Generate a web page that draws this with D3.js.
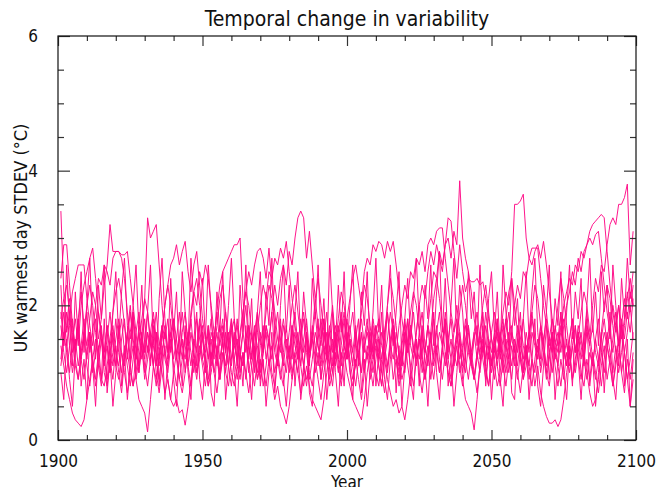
<!DOCTYPE html>
<html>
<head>
<meta charset="utf-8">
<script src="https://cdn.jsdelivr.net/npm/d3@7"></script>
<style>
body { margin: 0; background: #fff; }
svg { display: block; }
text { font-family: "DejaVu Sans Condensed", "DejaVu Sans", sans-serif; fill: #111; }
</style>
</head>
<body>
<svg id="grafico" width="659" height="487"></svg>
<script>

//DATI

var anni = d3.range(1901, 2100);

var serie1 = [
3.4,2.2,1.6,1.9,1.3,1.5,1.1,1.4,1.8,1.2, 1.6,1.0,1.3,1.9,1.5,1.2,0.9,1.4,1.7,1.3,
1.1,1.5,1.8,1.2,1.6,1.9,1.4,1.0,1.5,2.1, 3.3,3.0,3.1,3.2,2.6,2.0,1.5,1.8,1.3,1.6,
1.2,1.5,1.9,1.4,1.1,1.6,1.3,1.8,1.5,1.2, 1.4,1.7,1.1,1.5,1.9,2.3,2.5,2.6,2.7,2.8,
2.9,2.9,3.0,2.1,1.5,1.2,1.6,1.3,1.0,1.4, 1.7,1.2,1.5,1.9,1.3,1.1,1.5,1.8,1.4,1.0,
1.3,1.6,1.2,1.5,1.8,1.3,0.9,1.2,1.6,1.4, 1.1,1.5,1.9,1.3,1.0,1.4,1.7,1.2,1.5,1.8,
1.4,1.1,1.6,1.3,1.0,1.5,1.8,1.2,1.4,1.7, 1.3,1.0,1.5,1.9,1.4,1.2,1.6,1.3,1.1,1.5,
1.8,1.4,1.2,1.6,2.0,1.5,1.3,1.7,2.1,2.5, 2.4,2.8,2.6,2.9,3.0,2.7,3.1,2.9,3.85,3.0,
2.7,2.5,2.2,1.8,1.5,1.3,1.6,1.2,1.5,1.1, 1.4,1.7,1.3,1.0,1.5,1.2,1.6,1.4,1.1,1.5,
1.8,1.3,1.1,1.6,1.4,1.2,1.7,1.5,1.0,1.3, 1.6,1.2,1.5,1.9,1.4,1.1,1.5,1.8,1.3,1.6,
1.4,1.1,1.7,1.5,2.0,2.4,2.2,2.6,2.5,2.9, 3.2,3.3,3.2,3.5,3.5,3.6,3.8,2.6,3.1
];

var serie2 = [
2.4,2.9,2.9,2.3,1.7,1.4,1.8,1.2,1.5,1.9, 1.3,1.6,2.0,1.5,1.8,2.3,2.6,3.2,2.8,2.8,
2.8,2.7,2.4,1.9,1.5,1.8,1.3,1.6,1.2,1.5, 1.9,1.4,1.1,1.6,1.3,1.7,1.2,1.0,1.4,1.8,
1.5,1.2,1.6,1.9,1.4,1.1,1.5,1.3,1.7,1.2, 1.0,1.4,1.8,1.3,1.6,1.2,1.5,1.9,1.4,1.1,
1.5,1.7,1.3,1.6,2.0,1.4,1.2,1.6,1.9,1.5, 1.3,1.7,1.4,1.9,2.3,2.0,2.4,2.6,2.3,2.8,
2.6,3.0,3.3,3.4,3.3,2.7,3.1,2.6,2.1,1.7, 1.4,1.8,1.3,1.1,1.5,1.2,1.6,1.9,1.4,1.2,
1.5,1.3,1.7,1.2,1.0,1.4,1.6,1.3,1.8,1.5, 1.2,1.6,1.4,1.1,1.5,1.8,1.3,1.0,1.4,1.7,
1.3,1.5,1.9,1.4,1.2,1.6,1.3,1.7,1.5,1.2, 1.6,1.9,1.4,1.1,1.5,1.8,1.3,1.6,1.2,1.4,
1.8,1.3,1.1,1.5,1.7,1.2,1.4,1.9,1.5,1.3, 1.6,1.2,1.5,1.9,2.2,2.0,2.5,3.5,3.5,3.55,
3.65,3.0,2.7,2.85,2.85,2.85,2.4,2.0,1.7,1.4, 1.6,1.3,1.1,1.5,1.8,1.4,1.2,1.6,1.3,1.7,
1.5,1.2,1.6,1.4,1.1,1.5,1.8,1.3,1.6,1.4, 1.2,1.5,1.9,1.4,1.7,1.3,1.6,2.0,1.5
];

var serie3 = [
1.5,1.9,1.4,1.8,2.2,2.4,2.6,2.6,2.6,2.1, 1.7,1.4,1.8,1.3,1.6,1.2,1.5,1.9,1.4,1.1,
1.5,1.8,1.3,1.6,2.0,1.5,1.2,1.6,1.4,1.8, 1.3,1.6,1.9,1.5,1.2,1.6,2.0,2.3,2.6,2.7,
2.9,2.6,2.8,2.95,2.5,2.2,2.6,2.8,2.3,1.8, 1.5,1.2,1.6,1.4,1.1,1.5,1.8,1.3,1.6,1.2,
1.4,1.8,1.3,1.1,1.5,1.7,1.2,1.6,1.4,1.0, 1.3,1.7,1.5,1.2,1.6,1.9,1.4,1.1,1.5,1.3,
1.7,1.4,1.2,1.6,1.9,1.5,1.3,1.7,1.4,1.1, 1.5,1.8,1.3,1.6,2.0,1.5,1.2,1.6,1.9,1.4,
1.7,1.3,1.1,1.5,1.8,1.4,1.2,1.6,1.3,1.7, 1.5,1.2,1.6,1.9,1.4,1.7,1.3,1.1,1.5,1.8,
1.4,1.7,1.3,1.6,2.0,2.3,2.1,2.5,2.8,2.6, 2.9,2.7,2.5,2.9,3.3,3.25,2.8,2.4,2.9,2.5,
2.2,2.4,2.35,2.35,2.4,2.3,2.35,2.1,1.8,1.5, 1.3,1.6,1.2,1.5,1.8,1.4,1.1,1.5,1.3,1.7,
1.4,1.2,1.6,1.9,1.5,1.3,1.7,1.4,1.1,1.5, 1.8,1.4,1.6,1.3,1.7,2.0,2.2,2.5,2.3,2.7,
2.5,2.8,2.9,3.1,3.2,3.25,3.3,3.35,3.3,2.8, 2.3,1.9,1.6,2.0,1.7,2.1,1.8,2.2,2.0
];

var serie4 = [
1.2,1.6,1.3,1.0,1.5,1.8,1.4,2.0,2.3,2.5, 2.7,2.85,2.4,1.9,1.6,1.3,1.7,1.4,1.1,1.5,
1.8,1.3,1.1,1.5,1.9,1.4,1.2,1.7,1.5,1.3, 1.6,1.2,1.5,1.9,1.4,1.7,1.3,1.1,1.6,1.8,
1.3,1.5,1.2,1.6,1.4,1.9,2.2,2.0,2.5,2.3, 2.6,2.4,2.0,1.6,1.3,1.7,1.4,1.1,1.5,1.8,
1.4,1.2,1.6,1.9,2.2,2.5,2.3,2.6,2.8,2.85, 2.7,2.4,2.85,2.3,1.9,1.5,1.3,1.7,1.4,1.2,
1.6,1.9,1.4,1.1,1.5,1.8,1.3,1.6,1.2,1.5, 1.8,1.4,1.2,1.6,1.3,1.7,1.5,1.1,1.4,1.8,
2.1,2.4,2.6,2.3,2.0,2.5,2.7,2.6,2.9,2.8, 2.95,2.9,2.7,2.95,2.8,2.95,2.6,2.2,1.8,1.5,
1.3,1.7,1.4,1.2,1.6,1.9,1.4,1.1,1.5,1.8, 1.3,1.6,1.4,1.9,1.5,1.2,1.6,1.8,1.4,1.1,
1.5,1.7,1.3,1.6,1.2,1.5,1.9,1.4,1.2,1.6, 1.9,1.5,1.3,1.7,1.4,1.2,1.6,2.0,2.3,2.1,
2.5,2.4,2.7,2.6,2.8,2.9,2.7,2.95,2.6,2.2, 1.8,1.5,1.3,1.7,1.4,1.1,1.5,1.8,1.3,1.6,
1.2,1.5,1.9,1.4,1.7,1.3,1.1,1.5,1.8,1.4, 1.6,1.3,1.7,2.0,1.5,1.8,2.2,1.9,2.3
];

var serie5 = [
1.9,1.4,1.7,2.1,1.6,1.3,1.8,2.2,1.7,1.4, 1.8,2.2,2.0,2.4,2.3,2.6,2.5,2.3,2.7,2.8,
2.8,2.75,2.75,2.8,2.4,2.0,1.6,1.9,1.5,1.2, 1.6,1.4,1.8,1.3,1.1,1.5,1.7,1.3,1.6,1.2,
1.5,1.9,1.4,1.2,1.6,1.3,1.0,1.4,1.8,1.5, 1.3,1.6,1.2,1.5,1.9,1.4,1.7,1.3,1.1,1.6,
1.8,1.4,1.2,1.6,1.3,1.7,1.5,1.2,1.6,2.0, 2.3,2.1,2.5,2.4,2.7,2.6,2.85,2.7,2.95,2.5,
2.1,1.7,1.4,1.8,1.3,1.6,1.2,1.5,1.9,1.4, 1.2,1.6,1.3,1.7,1.4,1.1,1.5,1.8,1.4,1.2,
1.6,1.9,1.4,1.2,1.6,1.3,1.7,1.5,1.2,1.6, 1.8,1.4,1.2,1.5,1.9,1.6,1.3,1.7,2.0,2.3,
2.1,2.5,2.4,2.7,2.6,2.8,2.5,2.9,3.0,2.9, 3.1,3.15,3.15,2.7,2.3,1.9,1.6,2.0,1.6,1.3,
1.7,1.4,1.2,1.6,1.9,1.5,1.3,1.7,1.4,1.1, 1.5,1.8,1.4,1.2,1.6,1.9,1.5,1.3,1.7,1.4,
1.2,1.6,1.3,1.8,1.5,1.2,1.6,1.4,1.9,1.5, 1.3,1.7,1.4,1.6,2.0,2.2,2.4,2.3,2.6,2.5,
2.8,2.7,2.9,3.0,2.9,3.05,3.1,2.7,2.3,1.9, 1.6,2.0,1.7,1.4,1.8,1.5,1.9,1.6,2.1
];

var serie6 = [
1.0,0.6,1.5,0.9,0.5,1.3,1.8,0.8,1.2,0.6, 1.6,1.1,0.5,1.4,0.9,1.8,0.7,1.2,0.5,1.0,
1.7,0.8,1.3,0.6,1.1,1.9,0.9,0.6,0.5,0.4, 0.12,0.6,1.1,1.6,0.8,1.4,0.6,1.2,1.8,0.9,
0.5,1.3,0.8,1.7,1.0,0.6,1.5,1.9,0.9,0.6, 1.2,1.7,0.7,0.5,1.4,0.9,1.6,0.6,1.1,1.8,
1.0,0.5,1.3,0.8,1.7,1.1,0.6,1.4,1.9,0.8, 1.2,0.5,1.0,1.6,0.7,1.3,1.8,0.9,0.5,1.1,
1.7,0.8,1.4,0.6,1.0,1.6,0.7,0.5,1.2,1.8, 0.9,1.4,0.6,1.1,1.9,1.0,0.5,1.3,0.8,1.6,
1.1,0.6,1.5,1.8,0.7,1.2,0.5,1.0,1.7,0.8, 1.3,1.9,0.9,0.6,1.2,1.6,0.7,1.4,0.5,1.1,
1.8,0.9,0.6,1.5,0.8,1.7,1.1,0.5,1.3,1.9, 1.0,0.6,1.4,1.8,0.8,1.2,0.5,1.0,1.6,0.9,
0.6,0.5,0.4,0.15,0.6,1.1,1.7,0.8,1.4,0.6, 1.2,1.8,0.9,0.5,1.3,1.6,0.7,0.6,1.5,1.9,
1.0,1.4,0.6,1.2,1.8,0.8,0.5,1.1,1.7,0.9, 1.5,0.6,1.2,1.9,1.0,0.6,1.4,0.8,1.7,1.2,
0.6,1.3,1.8,0.8,1.2,0.5,1.0,1.6,0.7,1.4, 1.9,0.9,0.6,1.3,1.7,0.8,1.5,0.5,0.9
];

var serie7 = [
1.4,1.1,0.8,0.6,0.4,0.3,0.25,0.2,0.3,0.6, 0.9,1.2,0.8,1.1,1.5,1.0,0.8,1.2,1.6,1.1,
0.9,1.3,1.0,0.7,1.1,1.4,0.9,1.2,1.6,1.1, 0.8,1.2,1.5,1.0,0.7,1.1,1.4,0.9,0.6,1.0,
1.3,0.9,1.2,1.6,1.1,0.8,1.2,0.9,1.3,1.7, 1.2,0.9,1.3,1.0,0.7,1.1,1.5,1.0,0.8,1.2,
1.6,1.1,0.9,1.3,1.0,0.7,1.1,1.4,0.9,1.2, 0.8,1.1,1.5,1.0,0.8,1.2,0.9,1.3,1.7,1.2,
0.9,1.2,1.0,0.7,1.1,1.5,1.0,0.8,1.2,0.9, 0.6,1.0,1.3,0.9,1.2,1.6,1.1,0.8,1.2,1.5,
1.0,0.8,1.2,0.9,0.6,1.0,1.4,1.1,0.8,1.2, 1.5,1.0,0.7,1.1,1.4,0.9,1.2,0.8,1.1,1.6,
1.1,0.8,1.2,1.5,1.0,0.7,1.1,1.4,0.9,1.3, 1.7,1.2,0.9,1.3,1.0,0.8,1.2,1.6,1.1,0.8,
1.2,0.9,1.3,1.0,0.7,1.1,1.5,1.0,0.8,1.2, 0.9,1.3,1.6,1.1,0.8,1.2,0.9,1.4,1.0,0.7,
1.1,1.4,0.9,1.2,0.8,1.1,0.7,0.5,0.35,0.25, 0.25,0.3,0.2,0.3,0.6,1.0,1.3,0.9,1.2,1.5,
1.0,0.8,1.2,0.9,1.3,1.0,0.7,1.1,1.4,0.9, 1.2,0.8,1.1,1.5,1.0,0.7,1.2,0.9,1.3
];

var serie8 = [
1.7,1.3,1.0,1.4,1.8,1.2,0.9,1.3,1.6,1.1, 0.8,1.2,1.5,1.1,0.8,1.3,1.7,1.2,0.9,1.4,
1.0,0.7,1.2,1.6,1.1,0.8,1.3,1.0,1.4,0.9, 1.2,1.6,1.1,0.8,1.3,1.0,0.7,0.9,0.6,0.5,
0.6,0.4,0.45,0.22,0.5,0.9,1.3,1.0,1.4,1.1, 0.8,1.2,1.5,1.0,1.3,0.9,1.2,1.6,1.1,0.8,
1.2,1.5,1.0,1.3,0.9,1.4,1.1,0.8,1.2,1.6, 1.1,0.8,1.2,0.9,0.6,0.8,0.5,0.4,0.24,0.5,
0.9,1.3,1.0,1.4,1.1,0.8,1.2,1.5,1.0,1.3, 0.9,1.2,1.6,1.1,0.8,1.3,1.0,1.4,1.8,1.2,
1.5,1.1,0.8,1.2,1.6,1.0,1.3,0.9,1.2,1.5, 1.1,0.8,1.3,1.0,1.4,1.7,1.2,0.9,1.3,1.0,
1.4,1.1,0.8,1.2,1.5,1.0,1.3,1.7,1.2,0.9, 1.3,1.0,1.4,1.8,1.2,0.9,1.3,1.1,1.5,1.0,
1.3,1.7,1.2,0.9,1.3,1.0,1.4,1.1,0.8,1.2, 1.5,1.1,0.8,1.2,1.0,1.4,1.7,1.2,0.9,1.3,
1.0,1.4,1.1,0.8,1.2,1.5,1.0,1.3,0.9,1.2, 1.6,1.1,0.8,1.2,0.9,1.3,1.0,1.4,1.7,1.2,
0.9,1.3,1.0,0.7,0.5,0.6,0.9,1.3,1.0,1.4, 1.1,0.8,1.2,1.5,1.0,1.3,0.9,1.2,1.6
];

var serie9 = [
1.1,1.5,1.9,1.4,1.0,1.3,1.7,1.2,0.9,1.3, 1.6,1.2,0.9,1.3,1.7,1.1,1.4,1.0,1.3,1.8,
1.3,1.0,1.4,1.1,0.8,1.2,1.6,1.1,1.4,1.0, 1.4,1.1,1.7,1.2,0.9,1.3,1.6,1.2,1.5,1.1,
0.8,1.2,1.5,1.0,1.4,1.8,1.3,1.0,1.2,1.6, 1.1,0.8,1.2,1.6,1.2,0.9,1.3,1.0,1.4,1.7,
1.2,0.9,1.3,1.1,1.5,1.0,1.3,1.7,1.2,0.9, 1.3,1.6,1.1,1.4,1.0,1.3,1.7,1.2,1.0,1.4,
1.0,1.3,1.6,1.1,0.8,1.1,0.8,0.6,0.5,0.4, 0.3,0.6,1.0,1.4,1.1,1.5,1.2,0.9,1.3,1.0,
0.8,0.6,0.5,0.4,0.3,0.6,1.0,1.3,1.0,1.4, 1.1,0.8,1.2,0.9,0.7,0.5,0.6,0.4,0.5,0.3,
0.6,1.0,1.4,1.1,1.5,1.2,0.9,1.3,1.6,1.1, 1.4,1.0,1.3,1.7,1.2,1.5,1.1,1.4,1.0,1.3,
1.0,1.4,1.1,0.9,1.3,1.6,1.2,0.9,1.3,1.0, 1.4,1.1,1.5,1.8,1.3,1.0,1.4,1.1,1.5,1.2,
0.9,1.3,1.6,1.2,1.0,1.4,1.1,1.5,1.8,1.3, 1.0,1.4,1.1,0.8,1.2,1.5,1.1,1.4,1.0,1.3,
1.6,1.2,0.9,1.3,1.1,1.5,1.2,0.8,1.2,1.6, 1.3,1.0,1.4,1.1,1.7,1.3,0.9,0.5,1.2
];

var serie10 = [
2.3,1.4,2.6,1.7,1.1,2.2,1.5,2.5,1.3,2.0, 2.7,1.6,1.2,2.3,1.8,2.6,1.4,1.0,1.9,2.5,
1.5,2.2,2.7,1.7,1.2,2.0,2.6,1.6,2.3,1.3, 1.9,2.6,1.4,1.1,2.1,2.7,1.8,1.3,2.4,1.6,
2.2,1.2,2.5,1.9,1.4,2.7,2.0,1.1,1.7,2.4, 1.5,2.6,1.9,1.2,2.2,1.6,2.5,1.3,2.0,2.7,
1.8,1.1,2.3,1.6,2.6,1.4,2.1,1.0,1.9,2.5, 1.3,2.2,1.7,2.7,1.5,1.1,2.0,2.6,1.6,2.3,
1.2,1.9,2.5,1.4,2.2,1.7,1.1,2.4,1.8,2.6, 1.5,2.1,1.2,2.7,1.9,1.4,2.3,1.6,2.5,1.3,
2.0,2.6,1.5,1.1,2.2,1.7,2.5,1.3,1.9,2.7, 1.6,2.3,1.2,2.0,2.6,1.4,1.9,2.5,1.1,1.8,
2.4,1.5,2.1,2.7,1.7,1.2,2.3,1.8,2.6,1.4, 2.2,2.8,1.6,2.4,1.3,2.0,2.7,1.5,2.3,1.9,
1.2,2.5,1.8,2.2,1.4,2.6,1.7,1.1,2.1,2.5, 1.6,2.2,1.3,2.6,1.9,1.4,2.4,1.7,2.1,1.2,
1.8,2.5,1.5,2.2,2.7,1.6,1.2,2.3,1.9,2.6, 1.4,2.1,1.7,2.5,1.2,1.9,2.6,1.5,2.2,1.8,
2.4,1.3,2.0,2.7,1.6,2.2,1.4,2.5,1.9,2.3, 1.5,2.6,2.0,1.4,2.4,1.8,2.7,2.1,2.5
];

var serie11 = [
1.8,2.1,2.3,1.9,1.5,1.1,0.9,1.2,1.6,2.0, 2.3,2.0,1.6,1.2,0.9,0.8,1.1,1.5,1.9,2.2,
2.4,2.1,1.7,1.3,1.0,0.8,1.0,1.4,1.8,2.1, 1.9,1.5,1.1,0.9,1.2,1.6,2.0,2.3,2.0,1.6,
1.2,0.9,0.7,1.0,1.4,1.8,2.2,2.4,2.0,1.5, 1.1,0.8,1.0,1.3,1.7,2.1,2.3,1.9,1.4,1.0,
0.8,1.1,1.5,1.9,2.2,2.0,1.6,1.2,0.9,1.1, 1.5,1.9,2.3,2.1,1.7,1.3,1.0,0.8,1.2,1.6,
2.0,2.3,1.9,1.5,1.1,0.9,1.2,1.6,2.1,2.4, 2.0,1.6,1.2,0.8,1.0,1.4,1.8,2.2,2.0,1.6,
1.2,0.9,1.1,1.5,1.9,2.3,2.1,1.7,1.3,1.0, 0.8,1.2,1.6,2.0,2.4,2.1,1.7,1.2,0.9,1.1,
1.5,1.9,2.2,2.0,1.6,1.2,0.9,1.2,1.6,2.1, 2.4,2.1,1.7,1.3,1.0,0.8,1.1,1.5,1.9,2.3,
2.0,1.6,1.2,0.9,1.2,1.6,2.0,2.3,1.9,1.5, 1.1,0.8,1.0,1.4,1.8,2.2,2.4,2.0,1.6,1.2,
0.9,1.1,1.5,1.9,2.3,2.1,1.7,1.3,1.0,0.8, 1.2,1.6,2.0,2.4,2.1,1.7,1.3,0.9,1.1,1.5,
1.9,2.2,2.0,1.6,1.2,0.9,1.2,1.6,2.0,2.3, 2.1,1.7,1.3,1.0,1.3,1.7,2.1,2.4,2.0
];

var tuttiSerie = [serie1, serie2, serie3, serie4, serie5, serie6, serie7, serie8, serie9, serie10, serie11];

var tickAnni = [1900, 1950, 2000, 2050, 2100];
var tickAnniMinori = [1910, 1920, 1930, 1940, 1960, 1970, 1980, 1990, 2010, 2020, 2030, 2040, 2060, 2070, 2080, 2090];
var tickValori = [0, 2, 4, 6];
var tickValoriMinori = [0.5, 1, 1.5, 2.5, 3, 3.5, 4.5, 5, 5.5];

var titolo = "Temporal change in variability";
var etichettaX = "Year";
var etichettaY = "UK warmest day STDEV (\u00B0C)";

//VARIABILI

var svg = d3.select("#grafico");
var sinistra = 58, destra = 636, alto = 36, basso = 440;
var colore = "#ff0a86";

var x = d3.scaleLinear().domain([1900, 2100]).range([sinistra, destra]);
var y = d3.scaleLinear().domain([0, 6]).range([basso, alto]);

//FUNZIONI

function disegnaLinee(){

    var linea = d3.line()
        .x((d, i) => x(anni[i]))
        .y(d => y(d));

    svg.append("g").selectAll("path")
        .data(tuttiSerie)
        .enter()
        .append("path")
        .attr("d", linea)
        .attr("fill", "none")
        .attr("stroke", colore)
        .attr("stroke-width", 0.95);

}

function asse(generatore, trasla, valori, lunghezza, etichette, spazio){

    var g = svg.append("g")
        .attr("transform", trasla)
        .call(generatore.tickValues(valori).tickSize(-lunghezza).tickPadding(lunghezza + spazio)
            .tickFormat(etichette ? d3.format("d") : ""));

    g.select(".domain").remove();
    g.selectAll(".tick line").attr("stroke", "#333").attr("stroke-width", 1.2);
    g.selectAll("text")
        .style("font-size", "17px")
        .attr("fill", "#111");

    return g;

}

function disegnaAssi(){

    asse(d3.axisBottom(x), "translate(0," + basso + ")", tickAnni, 10, true, 5);
    asse(d3.axisBottom(x), "translate(0," + basso + ")", tickAnniMinori, 5, false, 5);
    asse(d3.axisTop(x), "translate(0," + alto + ")", tickAnni, 10, false, 5);
    asse(d3.axisTop(x), "translate(0," + alto + ")", tickAnniMinori, 5, false, 5);

    asse(d3.axisLeft(y), "translate(" + sinistra + ",0)", tickValori, 12, true, 8);
    asse(d3.axisLeft(y), "translate(" + sinistra + ",0)", tickValoriMinori, 6, false, 8);
    asse(d3.axisRight(y), "translate(" + destra + ",0)", tickValori, 12, false, 8);
    asse(d3.axisRight(y), "translate(" + destra + ",0)", tickValoriMinori, 6, false, 8);

    svg.selectAll("g.tick text").filter(function(){ return this.textContent === ""; }).remove();

    svg.append("rect")
        .attr("x", sinistra)
        .attr("y", alto)
        .attr("width", destra - sinistra)
        .attr("height", basso - alto)
        .attr("fill", "none")
        .attr("stroke", "#111")
        .attr("stroke-width", 1.2);

}

function disegnaTesti(){

    svg.append("text")
        .attr("x", (sinistra + destra) / 2)
        .attr("y", 26)
        .attr("text-anchor", "middle")
        .style("font-size", "21px")
        .text(titolo);

    svg.append("text")
        .attr("x", (sinistra + destra) / 2)
        .attr("y", 488)
        .attr("text-anchor", "middle")
        .style("font-size", "17px")
        .text(etichettaX);

    svg.append("text")
        .attr("transform", "translate(27," + ((alto + basso) / 2) + ") rotate(-90)")
        .attr("text-anchor", "middle")
        .style("font-size", "18px")
        .text(etichettaY);

}

disegnaLinee();
disegnaAssi();
disegnaTesti();

</script>
</body>
</html>
